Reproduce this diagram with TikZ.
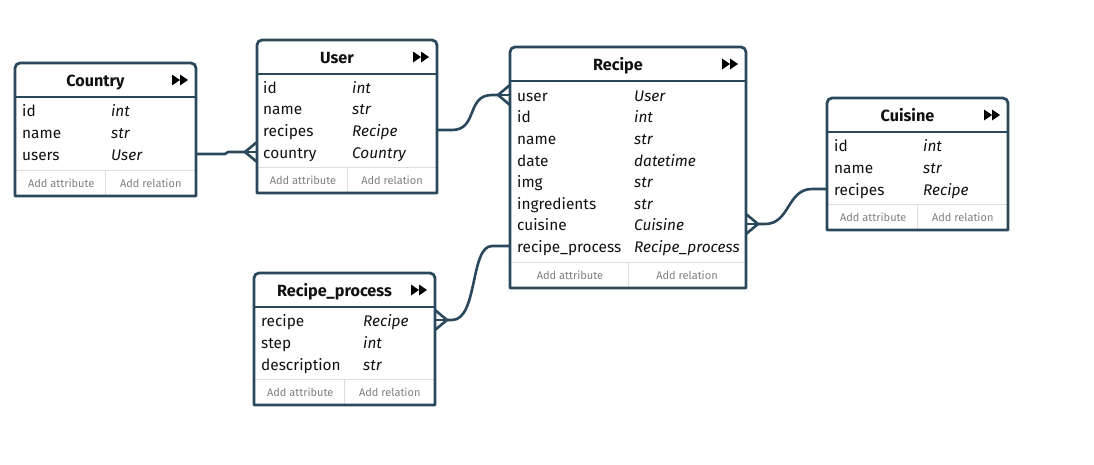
\documentclass[tikz,border=0pt]{standalone}
\usepackage{fontspec}
\setmainfont{Fira Sans}
\usetikzlibrary{calc}
\definecolor{frame}{HTML}{2A485C}
\definecolor{sepgray}{HTML}{DDDDDD}
\definecolor{addgray}{HTML}{808080}
\definecolor{txt}{HTML}{111111}
\tikzset{
  framepath/.style={draw=frame, line width=2.8pt, line join=round},
  conn/.style={draw=frame, line width=2.6pt, line join=round},
  sepline/.style={draw=sepgray, line width=0.9pt},
  titletxt/.style={font=\fontsize{16.2}{18}\selectfont\bfseries, text=txt, inner sep=0pt, anchor=base},
  fieldtxt/.style={font=\fontsize{15.4}{17}\selectfont, text=txt, inner sep=0pt, anchor=base west},
  typetxt/.style={font=\fontsize{15.4}{17}\selectfont\itshape, text=txt, inner sep=0pt, anchor=base west},
  addtxt/.style={font=\fontsize{11}{13}\selectfont, text=addgray, inner sep=0pt},
}
% #1 name, #2 x1, #3 ytop, #4 x2, #5 y of add-row separator, #6 title
\newcommand{\erbox}[6]{%
  \fill[white] (#2,-#5-26) -- (#2,-#3) -- (#4,-#3) -- (#4,-#5-26) -- cycle;
  \draw[sepline] (#2,-#5) -- (#4,-#5);
  \draw[sepline] ({(#2+#4)/2},-#5) -- ({(#2+#4)/2},-#5-26);
  \path[framepath] (#2,-#5-26) -- (#2,-#3-5) arc[start angle=180,end angle=90,radius=5]
     -- (#4-5,-#3) arc[start angle=90,end angle=0,radius=5] -- (#4,-#5-26) -- cycle;
  \draw[framepath] (#2,-#3-34) -- (#4,-#3-34);
  \node[titletxt] (#1) at ({(#2+#4)/2-10},-#3-23) {#6};
  \fill[black] (#4-24,-#3-11.5) -- (#4-16,-#3-17) -- (#4-24,-#3-22.5) -- cycle;
  \fill[black] (#4-16,-#3-11.5) -- (#4-8,-#3-17) -- (#4-16,-#3-22.5) -- cycle;
  \node[addtxt] (#1-addattr) at ({(3*#2+#4)/4+1},-#5-13) {Add attribute};
  \node[addtxt] (#1-addrel) at ({(#2+3*#4)/4},-#5-13) {Add relation};
}
% #1 node name, #2 x name, #3 x type, #4 y, #5 field, #6 type
\newcommand{\errow}[6]{%
  \node[fieldtxt] (#1) at (#2,-#4-6) {#5};
  \node[typetxt] (#1-t) at (#3,-#4-6) {#6};
}
% crow's foot: #1 apex coordinate, #2 direction (+1 edge to the right, -1 edge to the left)
\newcommand{\crowfoot}[2]{%
  \draw[conn] ($(#1)+(12*#2,10)$) -- (#1) -- ($(#1)+(12*#2,-10)$);
  \draw[conn] (#1) -- ($(#1)+(12*#2,0)$);
}
\begin{document}
\begin{tikzpicture}[x=1pt,y=1pt]
\useasboundingbox (0,0) rectangle (1094,-464);
\fill[white] (0,0) rectangle (1094,-464);

% Country
\erbox{country}{15}{63}{196}{170}{Country}
\errow{country-id}{22}{111}{110}{id}{int}
\errow{country-name}{22}{111}{132}{name}{str}
\errow{country-users}{22}{111}{154}{users}{User}

% User
\erbox{user}{257}{40}{437}{167}{User}
\errow{user-id}{263}{352}{87}{id}{int}
\errow{user-name}{263}{352}{108}{name}{str}
\errow{user-recipes}{263}{352}{130}{recipes}{Recipe}
\errow{user-country}{263}{352}{152}{country}{Country}

% Recipe
\erbox{recipe}{510}{47}{746}{262}{Recipe}
\errow{recipe-user}{517}{634}{95}{user}{User}
\errow{recipe-id}{517}{634}{116}{id}{int}
\errow{recipe-name}{517}{634}{138}{name}{str}
\errow{recipe-date}{517}{634}{160}{date}{datetime}
\errow{recipe-img}{517}{634}{181}{img}{str}
\errow{recipe-ingredients}{517}{634}{203}{ingredients}{str}
\errow{recipe-cuisine}{517}{634}{224}{cuisine}{Cuisine}
\errow{recipe-process}{517}{634}{246}{recipe\_process}{Recipe\_process}

% Cuisine
\erbox{cuisine}{827}{98}{1008}{204}{Cuisine}
\errow{cuisine-id}{834}{923}{145}{id}{int}
\errow{cuisine-name}{834}{923}{167}{name}{str}
\errow{cuisine-recipes}{834}{923}{189}{recipes}{Recipe}

% Recipe_process
\erbox{rp}{254}{273}{435}{379}{Recipe\_process}
\errow{rp-recipe}{261}{363}{320}{recipe}{Recipe}
\errow{rp-step}{261}{363}{342}{step}{int}
\errow{rp-description}{261}{363}{364}{description}{str}

% connector anchors
\coordinate (c-country) at (197,-154);
\coordinate (c-user-apex) at (245,-152);
\coordinate (c-userrec) at (438,-130);
\coordinate (c-recuser-apex) at (498,-95);
\coordinate (c-recproc) at (509,-246);
\coordinate (c-rp-apex) at (447,-320);
\coordinate (c-reccui-apex) at (758,-224);
\coordinate (c-cuisine) at (826,-189);

% Country -- User
\draw[conn] (c-country) -- ++(28,0) -- ++(3,2) -- (c-user-apex);
\crowfoot{c-user-apex}{1}
% User -- Recipe
\draw[conn] (c-userrec) -- ++(14,0) .. controls +(26,0) and +(-26,0) .. ($(c-recuser-apex)+(-6,0)$) -- (c-recuser-apex);
\crowfoot{c-recuser-apex}{1}
% Recipe -- Recipe_process
\draw[conn] (c-recproc) -- ++(-17,0) .. controls +(-22,0) and +(26,0) .. ($(c-rp-apex)+(5,0)$) -- (c-rp-apex);
\crowfoot{c-rp-apex}{-1}
% Recipe -- Cuisine
\draw[conn] (c-reccui-apex) -- ++(7,0) .. controls +(25,0) and +(-25,0) .. ($(c-cuisine)+(-14,0)$) -- (c-cuisine);
\crowfoot{c-reccui-apex}{-1}
\end{tikzpicture}
\end{document}
